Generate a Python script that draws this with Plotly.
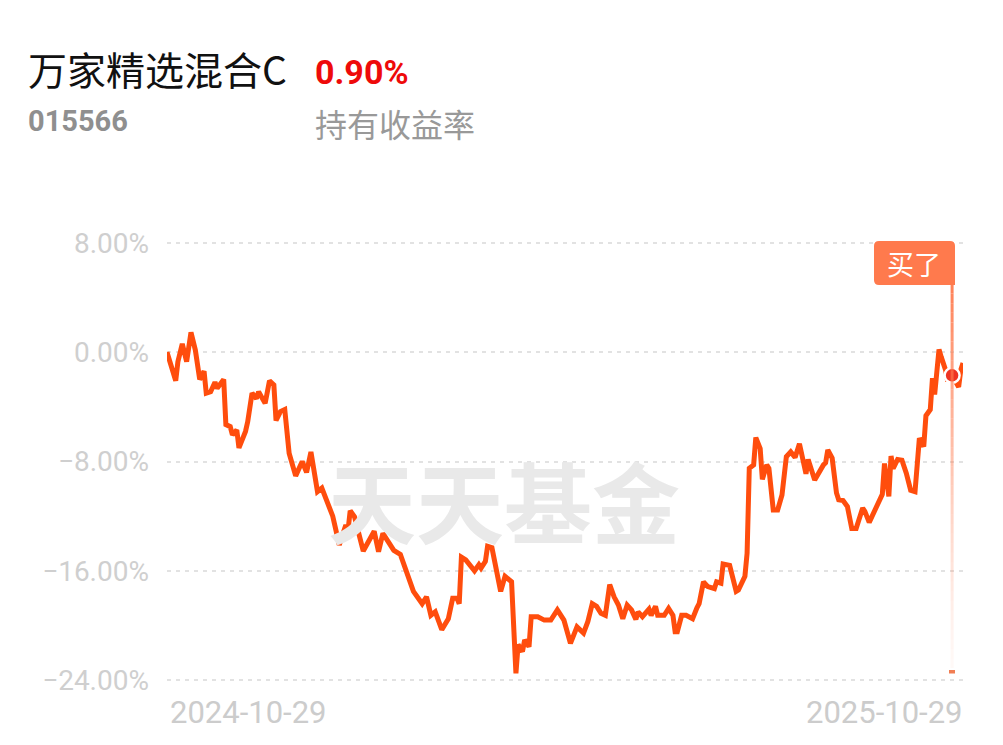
import pandas as pd
import plotly.graph_objects as go

# 数据：自起始日(2024-10-29)起的天数 与 对应收益率(%)
day_offset = [0, 4, 5, 7, 9, 11, 13, 15, 17, 18, 20, 22, 23, 26, 27, 29, 30, 32, 33, 36,
              37, 39, 41, 42, 45, 47, 49, 50, 52, 54, 56, 59, 62, 64, 66, 69, 71, 76, 79, 82,
              83, 84, 86, 90, 95, 97, 99, 104, 107, 111, 113, 117, 119, 121, 123, 126, 129, 131, 133, 134,
              135, 137, 141, 143, 144, 146, 147, 149, 151, 153, 155, 158, 160, 161, 163, 164, 166, 167, 170, 173,
              176, 179, 182, 185, 188, 191, 193, 195, 197, 199, 201, 203, 205, 207, 209, 211, 213, 215, 216, 218,
              221, 222, 224, 225, 228, 230, 232, 233, 234, 236, 238, 241, 243, 244, 246, 248, 251, 252, 254, 255,
              258, 261, 262, 265, 266, 267, 269, 270, 272, 273, 275, 276, 278, 280, 282, 284, 286, 288, 290, 291,
              293, 294, 297, 301, 302, 303, 305, 307, 308, 310, 312, 314, 316, 319, 320, 322, 325, 327, 328, 329,
              330, 331, 332, 333, 335, 337, 339, 341, 343, 344, 345, 347, 348, 350, 351, 352, 353, 354, 355, 357,
              358, 359, 360, 363, 364, 365]
returns = [0.0, -2.1, -0.7, 0.6, -0.7, 1.44, 0.15, -2.0, -1.4, -3.0, -2.9, -2.2, -2.65, -2.0, -5.3, -5.45, -6.05, -5.7, -7.0, -5.8,
           -5.1, -3.0, -3.4, -2.9, -3.75, -2.1, -2.4, -5.0, -4.35, -4.2, -7.4, -9.05, -8.0, -8.8, -7.3, -10.2, -9.95, -12.0, -14.1, -12.65,
           -13.05, -11.6, -12.05, -14.55, -13.1, -14.6, -13.25, -14.5, -14.8, -16.8, -17.5, -18.4, -17.9, -19.25, -19.0, -20.3, -19.5, -18.0, -18.0, -18.4,
           -15.0, -15.2, -16.0, -15.55, -15.8, -15.3, -14.2, -14.3, -16.15, -17.5, -16.4, -16.8, -23.5, -21.4, -21.9, -21.05, -21.55, -19.35, -19.35, -19.6,
           -19.6, -18.85, -19.6, -21.3, -20.1, -20.55, -19.7, -18.4, -18.6, -19.1, -19.25, -17.0, -17.9, -18.5, -19.5, -18.5, -18.85, -19.55, -19.0, -19.35,
           -18.8, -19.25, -18.6, -19.25, -19.25, -18.75, -19.25, -20.45, -20.45, -19.25, -19.25, -19.5, -18.7, -18.4, -16.8, -17.15, -17.3, -16.8, -16.9, -15.5,
           -15.6, -17.5, -17.4, -16.4, -14.7, -8.5, -8.25, -6.25, -7.05, -9.3, -8.25, -8.5, -11.55, -11.55, -10.45, -7.65, -7.3, -7.7, -6.7, -7.55,
           -8.9, -7.85, -9.35, -8.25, -8.1, -7.15, -7.75, -10.3, -10.8, -10.85, -11.3, -12.9, -12.9, -11.4, -11.65, -12.45, -11.4, -10.55, -10.4, -8.15,
           -9.35, -10.55, -7.6, -8.5, -7.85, -7.9, -8.85, -10.1, -10.2, -7.75, -6.3, -6.9, -4.65, -4.2, -1.9, -3.1, -1.7, 0.2, -0.35, -1.3,
           -2.15, -1.4, -1.7, -2.55, -1.3, -0.8]

start_date = "2024-10-29"
end_date = "2025-10-29"
buy_day = 360
buy_return = -1.7

fund_name = "万家精选混合C"
fund_code = "015566"
hold_return = "0.90%"
hold_label = "持有收益率"
y_ticks = [8, 0, -8, -16, -24]

dates = pd.Timestamp(start_date) + pd.to_timedelta(day_offset, unit="D")
buy_date = pd.Timestamp(start_date) + pd.Timedelta(days=buy_day)

W, H = 1003, 745
L, R, T, B = 167, 40, 240, 62
PW, PH = W - L - R, H - T - B


def px(x):
    return (x - L) / PW


def py(y):
    return (H - B - y) / PH


CJK = "Noto Sans CJK SC"
NUM = "Roboto"
LINE_C = "#ff4d0d"
BUY_C = "#ff7a4d"

fig = go.Figure()
fig.add_trace(go.Scatter(
    x=dates, y=returns, mode="lines",
    line=dict(color=LINE_C, width=5, shape="linear"),
    hoverinfo="skip", showlegend=False,
))

shapes = []
# 买入竖线（向下渐隐）
n_seg = 40
y_top, y_bot = 284, 668
for i in range(n_seg):
    a = y_top + (y_bot - y_top) * i / n_seg
    b = y_top + (y_bot - y_top) * (i + 1) / n_seg
    op = 0.9 * (1 - i / n_seg) ** 1.3 + 0.03
    shapes.append(dict(type="line", xref="x", yref="paper", x0=buy_date, x1=buy_date,
                       y0=py(a), y1=py(b), line=dict(color=BUY_C, width=3), opacity=op, layer="above"))
shapes.append(dict(type="rect", xref="paper", yref="paper", x0=px(949), x1=px(955), y0=py(673.5), y1=py(670),
                   fillcolor="#f07040", line=dict(width=0), opacity=0.9))
# 标签框（圆角）
x0, x1, y0, y1, r = 874, 955, 241, 285, 5
path = (f"M {px(x0 + r)},{py(y0)} L {px(x1 - r)},{py(y0)} Q {px(x1)},{py(y0)} {px(x1)},{py(y0 + r)} "
        f"L {px(x1)},{py(y1)} L {px(x0 + r)},{py(y1)} Q {px(x0)},{py(y1)} {px(x0)},{py(y1 - r)} "
        f"L {px(x0)},{py(y0 + r)} Q {px(x0)},{py(y0)} {px(x0 + r)},{py(y0)} Z")
shapes.append(dict(type="path", xref="paper", yref="paper", path=path,
                   fillcolor=BUY_C, line=dict(width=0), layer="above"))

fig.add_trace(go.Scatter(
    x=[buy_date], y=[buy_return], mode="markers",
    marker=dict(size=15, color="#ee3322", line=dict(color="white", width=2.5)),
    hoverinfo="skip", showlegend=False,
))

annotations = [
    dict(text="天天基金", x=px(504), y=py(498), font=dict(family=CJK, size=88, color="#e9e9e9", weight=700)),
    dict(text="买了", x=px(914), y=py(263), font=dict(family=CJK, size=27, color="white")),
    dict(text=fund_name, x=px(26), y=py(68), xanchor="left", font=dict(family=CJK, size=39, color="#111111")),
    dict(text=hold_return, x=px(313), y=py(72), xanchor="left",
         font=dict(family=NUM, size=34, color="#ee0a0a", weight=700)),
    dict(text=fund_code, x=px(26), y=py(121), xanchor="left",
         font=dict(family=NUM, size=29, color="#8f8f8f", weight=700)),
    dict(text=hold_label, x=px(313), y=py(123), xanchor="left", font=dict(family=CJK, size=32, color="#999999")),
    dict(text=start_date, x=px(168), y=py(712), xanchor="left", font=dict(family=NUM, size=31, color="#cccccc")),
    dict(text=end_date, x=px(965), y=py(712), xanchor="right", font=dict(family=NUM, size=31, color="#cccccc")),
]
for a in annotations:
    a.update(xref="paper", yref="paper", showarrow=False)
    a.setdefault("xanchor", "center")
    a.setdefault("yanchor", "middle")

fig.update_layout(
    width=W, height=H,
    margin=dict(l=L, r=R, t=T, b=B),
    paper_bgcolor="white", plot_bgcolor="rgba(0,0,0,0)",
    shapes=shapes, annotations=annotations,
    xaxis=dict(range=[pd.Timestamp(start_date), pd.Timestamp(end_date)], showgrid=False,
               showticklabels=False, zeroline=False, showline=False, fixedrange=True),
    yaxis=dict(range=[-24.2, 8.2], tickvals=y_ticks,
               ticktext=[f"{v:.2f}%".replace("-", "−") for v in y_ticks],
               tickfont=dict(family=NUM, size=28, color="#cfcfcf"),
               ticklabelstandoff=17, showgrid=True, gridcolor="#e2e2e2", gridwidth=1.5,
               griddash="4px,5px", zeroline=False, showline=False, fixedrange=True),
)

# 去掉页面默认的 body 外边距，使图与窗口左上角对齐
fig.write_html("out.html", config={"displayModeBar": False},
               post_script="document.body.style.margin='0';")
